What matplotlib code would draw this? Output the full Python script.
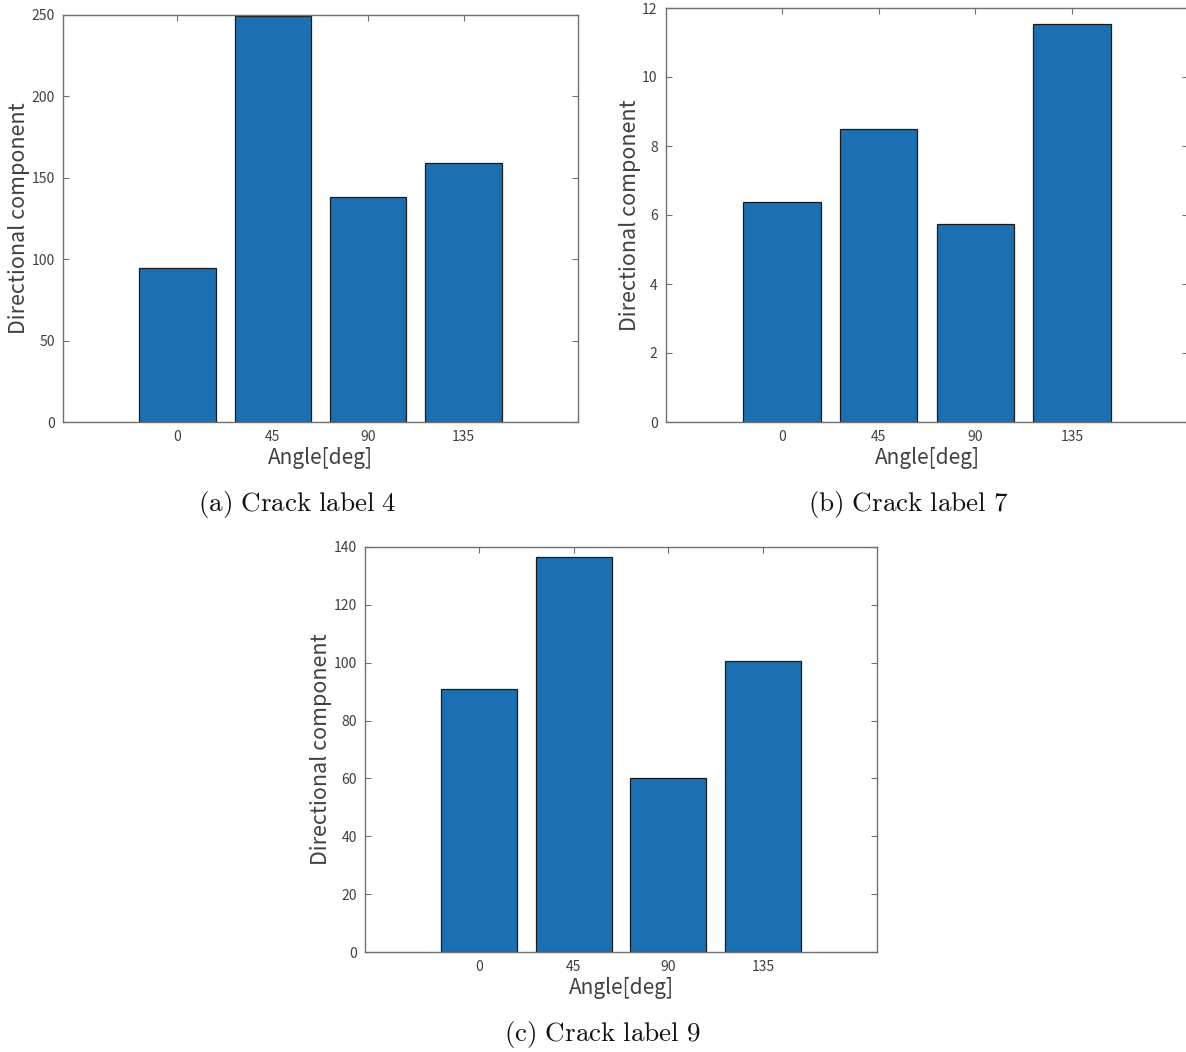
import matplotlib.pyplot as plt

angles = ["0", "45", "90", "135"]
label4_vals = [94.4, 249.3, 138.0, 158.8]
label7_vals = [6.39, 8.50, 5.74, 11.55]
label9_vals = [90.8, 136.6, 60.3, 100.6]

captions = ["(a)\\ Crack\\ label\\ 4", "(b)\\ Crack\\ label\\ 7", "(c)\\ Crack\\ label\\ 9"]

W, H = 1186, 1052
BAR_COLOR = "#1c70b1"
AX_COLOR = "#707070"
TXT_COLOR = "#404040"

plt.rcParams["font.family"] = ["Noto Sans CJK JP", "DejaVu Sans"]
plt.rcParams["mathtext.fontset"] = "cm"

fig = plt.figure(figsize=(W / 100, H / 100), dpi=100)


def px_axes(left, top, right, bottom):
    return fig.add_axes([left / W, 1 - bottom / H, (right - left) / W, (bottom - top) / H])


def draw_panel(ax, vals, ylim, yticks):
    x = range(len(vals))
    ax.bar(x, vals, width=0.8, color=BAR_COLOR, edgecolor="#1a1a1a", linewidth=0.9, zorder=2)
    ax.set_xlim(-1.2, len(vals) + 0.2)
    ax.set_ylim(*ylim)
    ax.set_xticks(list(x))
    ax.set_xticklabels(angles)
    ax.set_yticks(yticks)
    ax.tick_params(direction="in", length=4, width=0.8, color=AX_COLOR,
                   labelcolor=TXT_COLOR, labelsize=10,
                   top=True, right=True, pad=6)
    for s in ax.spines.values():
        s.set_color(AX_COLOR)
        s.set_linewidth(1.0)
    ax.set_xlabel("Angle[deg]", fontsize=15, color=TXT_COLOR, labelpad=2)
    ax.set_ylabel("Directional component", fontsize=15.5, color=TXT_COLOR, labelpad=1)


ax1 = px_axes(63, 15, 578, 422)
draw_panel(ax1, label4_vals, (0, 250), [0, 50, 100, 150, 200, 250])

ax2 = px_axes(666, 8, 1188, 422)
draw_panel(ax2, label7_vals, (0, 12), [0, 2, 4, 6, 8, 10, 12])

ax3 = px_axes(365, 547, 877, 952)
draw_panel(ax3, label9_vals, (0, 140), [0, 20, 40, 60, 80, 100, 120, 140])

cap_pos = [(297, 505), (908, 505), (602, 1035)]
for (cx, cy), cap in zip(cap_pos, captions):
    fig.text(cx / W, 1 - cy / H, "$\\mathrm{" + cap + "}$", ha="center", va="center",
             fontsize=19.5, color="#111111")

fig.savefig("out.png", dpi=100)
